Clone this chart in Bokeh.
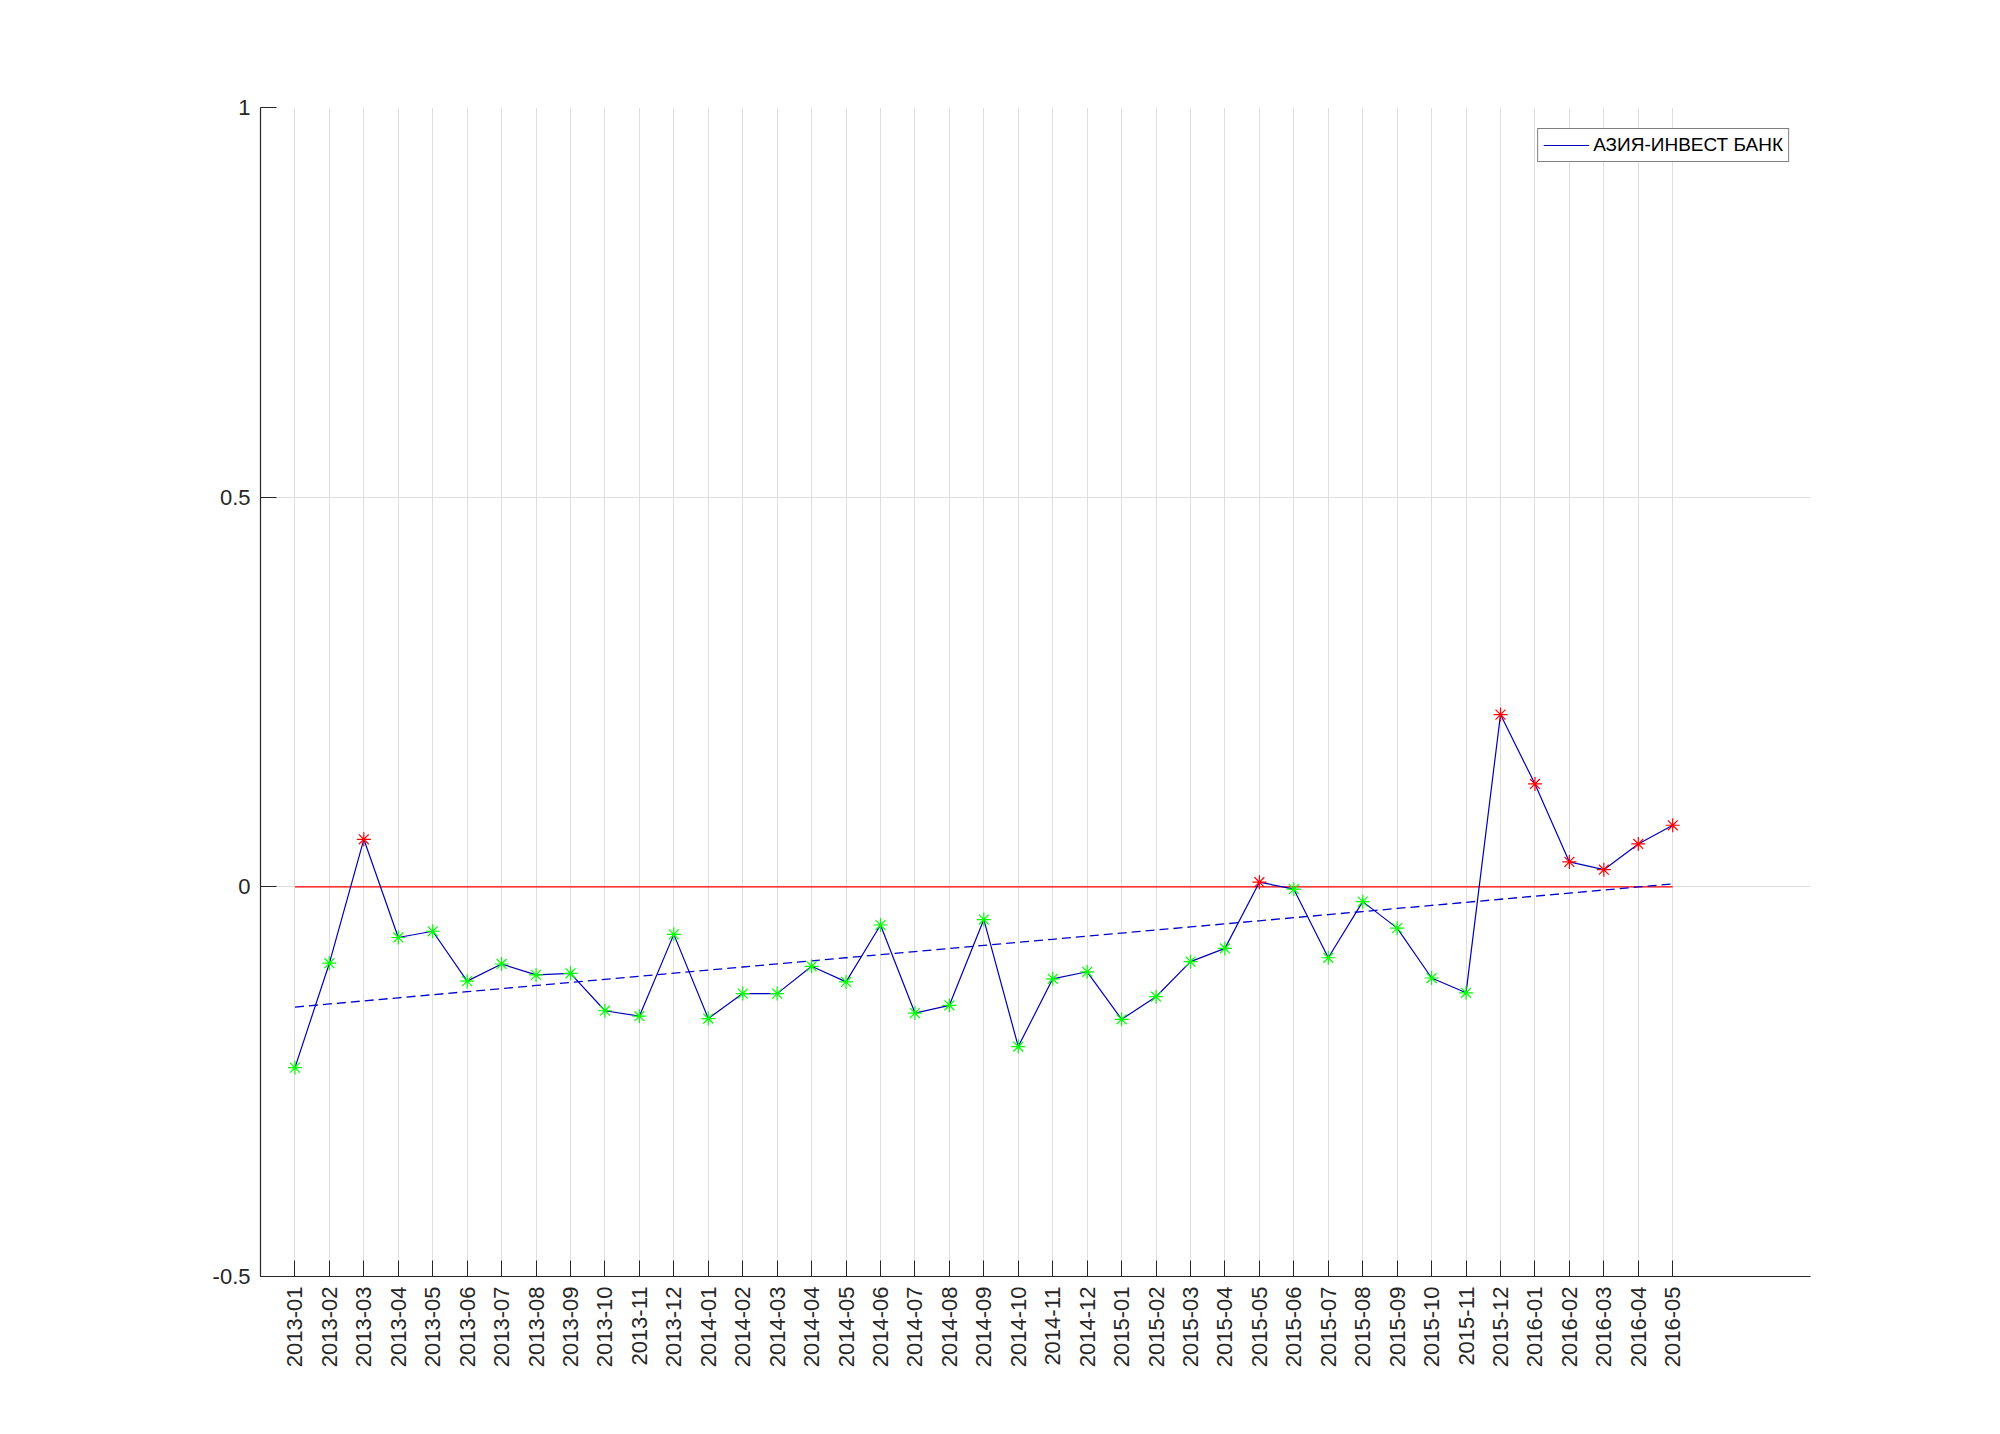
import numpy as np
from bokeh.plotting import figure
from bokeh.models import (ColumnDataSource, FixedTicker, Range1d, Legend, LegendItem)
from bokeh.embed import file_html
from bokeh.resources import INLINE

months = ["2013-01", "2013-02", "2013-03", "2013-04", "2013-05", "2013-06", "2013-07",
          "2013-08", "2013-09", "2013-10", "2013-11", "2013-12",
          "2014-01", "2014-02", "2014-03", "2014-04", "2014-05", "2014-06", "2014-07",
          "2014-08", "2014-09", "2014-10", "2014-11", "2014-12",
          "2015-01", "2015-02", "2015-03", "2015-04", "2015-05", "2015-06", "2015-07",
          "2015-08", "2015-09", "2015-10", "2015-11", "2015-12",
          "2016-01", "2016-02", "2016-03", "2016-04", "2016-05"]

values = [-0.232, -0.098, 0.061, -0.065, -0.057, -0.121, -0.099, -0.113, -0.111, -0.159,
          -0.166, -0.061, -0.169, -0.137, -0.137, -0.102, -0.122, -0.049, -0.162, -0.152,
          -0.042, -0.205, -0.118, -0.109, -0.170, -0.141, -0.096, -0.079, 0.006, -0.003,
          -0.091, -0.019, -0.053, -0.117, -0.136, 0.221, 0.132, 0.032, 0.022, 0.055, 0.079]

series_name = "АЗИЯ-ИНВЕСТ БАНК"
y_ticks = [-0.5, 0, 0.5, 1]
y_tick_labels = ["-0.5", "0", "0.5", "1"]

x = np.arange(1, len(months) + 1)
v = np.array(values)
colors = ["#ff0000" if val > 0 else "#00ff00" for val in values]
coef = np.polyfit(x, v, 1)
trend = np.polyval(coef, x)

src = ColumnDataSource(dict(x=x, y=v, c=colors, t=trend, z=np.zeros(len(x))))

FONT = "Liberation Sans"
AX = "#262626"

p = figure(width=2000, height=1434, output_backend="svg", toolbar_location=None,
           x_range=Range1d(0, 45), y_range=Range1d(-0.5, 1),
           min_border_left=260, min_border_right=190, min_border_top=107,
           min_border_bottom=158)
p.outline_line_color = None
p.background_fill_color = "white"
p.border_fill_color = "white"

zero = p.line("x", "z", source=src, line_color="#ff0000", line_width=1.2)
tr = p.line("x", "t", source=src, line_color="#0000cc", line_width=1.3, line_dash="9 5")
ln = p.line("x", "y", source=src, line_color="#0000b8", line_width=1.2)
mk = p.scatter("x", "y", source=src, marker="asterisk", size=14, line_color="c", line_width=1.2)

# axes
p.xaxis.ticker = FixedTicker(ticks=list(x))
p.xaxis.major_label_overrides = {int(i): m for i, m in zip(x, months)}
p.xaxis.major_label_orientation = np.pi / 2
p.yaxis.ticker = FixedTicker(ticks=y_ticks)
p.yaxis.major_label_overrides = {t: l for t, l in zip(y_ticks, y_tick_labels)}
for ax in (p.xaxis, p.yaxis):
    ax.major_tick_in = 16
    ax.major_tick_out = 0
    ax.minor_tick_line_color = None
    ax.axis_line_color = AX
    ax.major_tick_line_color = AX
    ax.axis_line_width = 1.2
    ax.major_label_text_font = FONT
    ax.major_label_text_font_size = "22px"
    ax.major_label_text_color = AX
    ax.major_label_standoff = 10

p.xgrid.ticker = FixedTicker(ticks=list(x))
p.ygrid.ticker = FixedTicker(ticks=y_ticks)
p.grid.grid_line_color = "#dedede"
p.grid.grid_line_width = 1

legend = Legend(items=[LegendItem(label=series_name, renderers=[ln])],
                location="top_right")
legend.margin = 21
legend.padding = 5
legend.spacing = 0
legend.glyph_width = 46
legend.glyph_height = 20
legend.label_standoff = 4
legend.label_text_font = FONT
legend.label_text_font_size = "19px"
legend.label_text_color = "#000000"
legend.border_line_color = "#000000"
legend.border_line_width = 1
legend.background_fill_color = "white"
legend.background_fill_alpha = 1
p.add_layout(legend)

open("out.html", "w").write(file_html(p, INLINE))
